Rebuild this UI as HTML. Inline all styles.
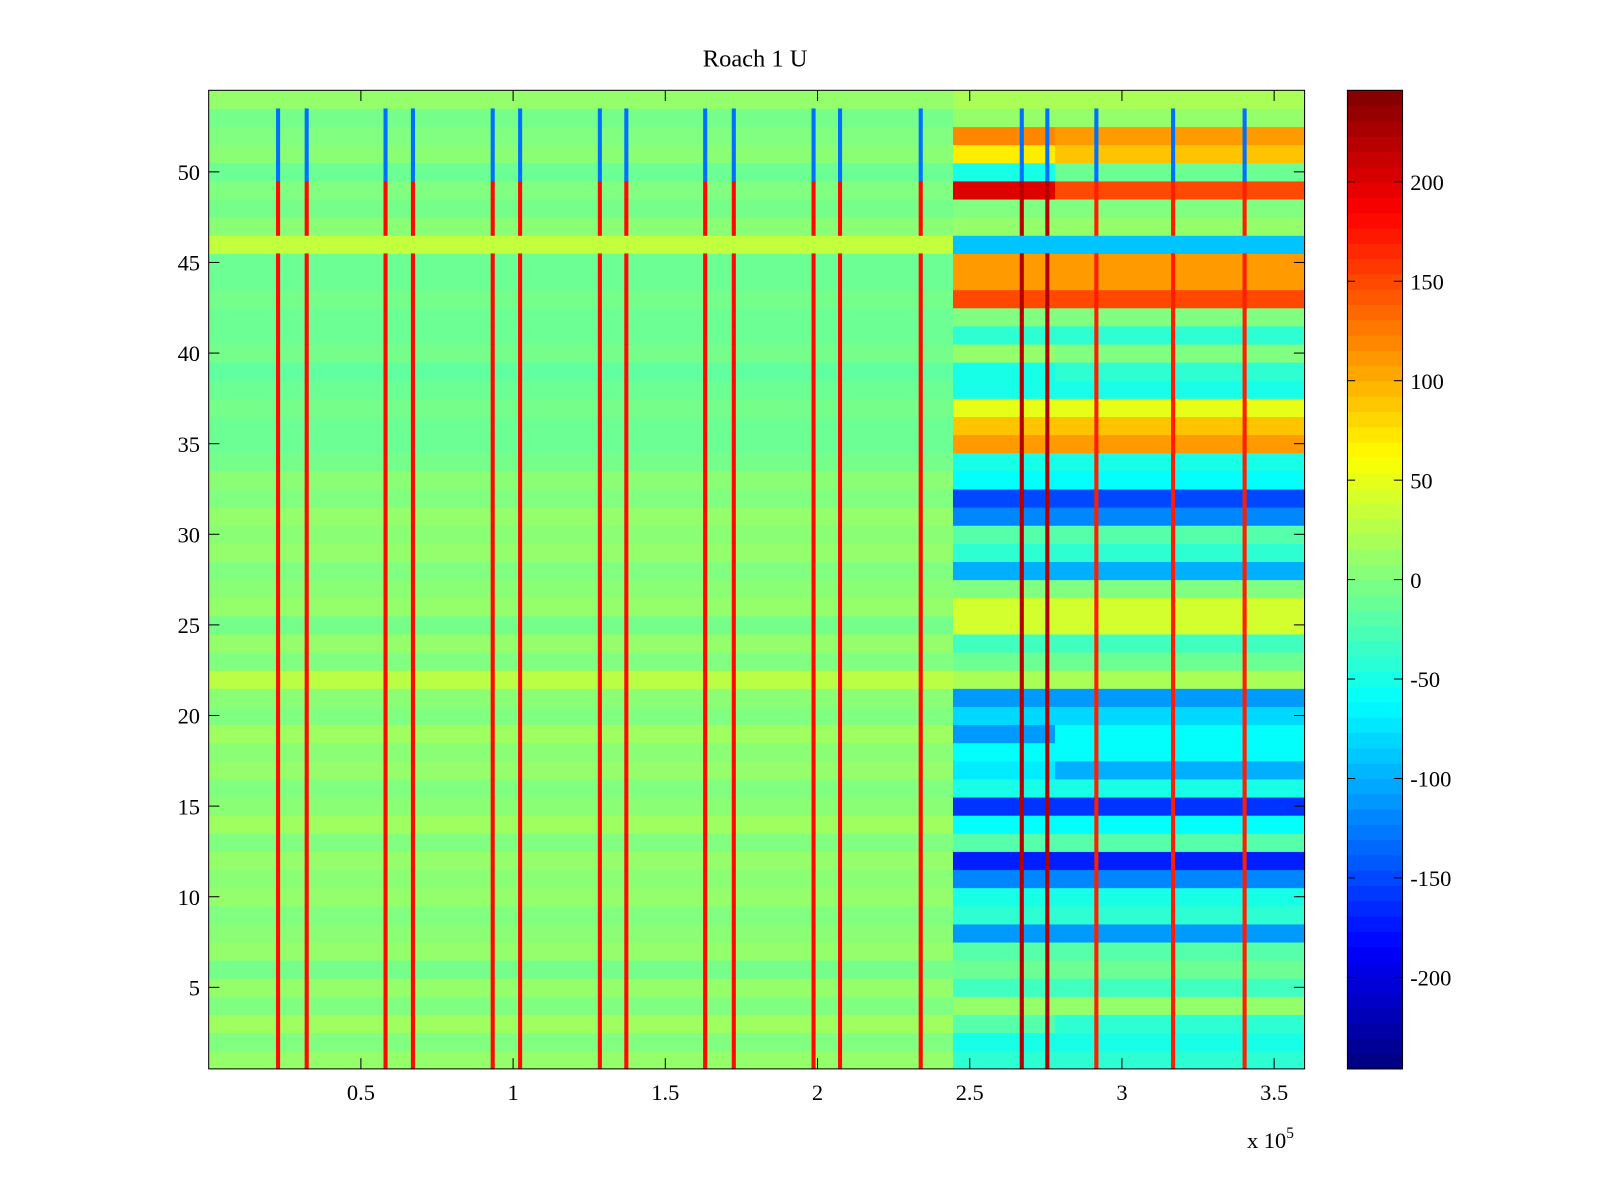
<!DOCTYPE html>
<html><head><meta charset="utf-8"><style>
body{margin:0;background:#fff;}
svg{display:block;font-family:"Liberation Serif",serif;}
</style></head><body>
<svg id="chart" width="1600" height="1200" viewBox="0 0 1568 1176" preserveAspectRatio="none">
<rect width="1568" height="1176" fill="#fff"/>
<g id="cells"></g>
<g id="spikes"></g>
<rect x="204.5" y="88.5" width="1074" height="959" fill="none" stroke="#000" stroke-width="1"/>
<g id="axes"></g>
<text x="740" y="65" font-size="24" text-anchor="middle">Roach 1 U</text>
<text x="1222" y="1125" font-size="22">x 10<tspan dy="-10" font-size="15">5</tspan></text>
<g id="colorbar"></g>
</svg>
<script>
// rows 1..54 (index 0 = row 1)
const leftVals = [10,0,15,0,10,-5,10,5,0,10,5,10,0,15,5,0,10,5,15,0,5,28,0,10,-5,10,5,0,10,5,10,0,5,-5,-10,-10,-5,-10,-15,-5,-10,-10,-5,-10,-10,32,5,-5,0,-10,5,0,-5,10];
const midVals = [-40,-50,-20,10,-30,-10,-20,-110,-40,-50,-120,-170,-20,-60,-160,-50,-70,-60,-110,-80,-110,20,-10,-30,40,40,0,-100,-40,-20,-120,-150,-60,-50,110,90,50,-50,-50,10,-40,0,150,110,110,-90,10,0,200,-50,70,120,10,20];
const rightVals = [-40,-50,-40,10,-30,-10,-20,-110,-40,-50,-120,-170,-20,-60,-160,-50,-100,-60,-60,-80,-110,20,-10,-30,40,40,0,-100,-40,-20,-120,-150,-60,-50,110,90,50,-50,-40,0,-40,0,150,110,110,-90,10,0,150,-10,90,110,10,20];
const spikeX = [22800,32200,58100,67100,93300,102300,128500,137200,163100,172500,198700,207400,233900,267100,275500,291600,316800,340300];
const spikeVals = [180,180,180,180,180,180,180,180,180,180,180,180,180,220,220,170,170,170];
const spikeTopVals = [-130,-130,-130,-130,-130,-130,-130,-130,-130,-130,-130,-130,-130,-130,-130,-130,-130,-130];
const xTicks = [0.5,1,1.5,2,2.5,3,3.5];
const yTicks = [5,10,15,20,25,30,35,40,45,50];
const cbTicks = [-200,-150,-100,-50,0,50,100,150,200];
const X0=0, X1=360000, Y0=0.5, Y1=54.5, CL=246;
const MID0=244500, MID1=278000;
const px = v => 204.5 + (v-X0)/(X1-X0)*1074;
const py = v => 1047.5 - (v-Y0)/(Y1-Y0)*959;
function jet(v){
  let t=(v+CL)/(2*CL); t=Math.max(0,Math.min(1,t));
  const f=x=>Math.max(0,Math.min(1,x));
  const r=f(1.5-Math.abs(4*t-3)), g=f(1.5-Math.abs(4*t-2)), b=f(1.5-Math.abs(4*t-1));
  return `rgb(${Math.round(r*255)},${Math.round(g*255)},${Math.round(b*255)})`;
}
const NS='http://www.w3.org/2000/svg';
function mk(tag,attrs,parent){const e=document.createElementNS(NS,tag);for(const k in attrs)e.setAttribute(k,attrs[k]);parent.appendChild(e);return e;}
const cells=document.getElementById('cells');
for(let i=0;i<54;i++){
  const r=i+1, yt=py(r+0.5), h=py(r-0.5)-yt;
  const segs=[[X0,MID0,leftVals[i]],[MID0,MID1,midVals[i]],[MID1,X1,rightVals[i]]];
  segs.forEach(s=>{
    const e=mk('rect',{x:px(s[0]),y:yt,width:px(s[1])-px(s[0])+0.5,height:h+0.5,fill:jet(s[2])},cells);
    
    
  });
}
const spikes=document.getElementById('spikes');
spikeX.forEach((x,j)=>{
  for(let i=0;i<54;i++){
    const r=i+1;
    if(r===54 || r===46) continue;
    const v = r>=50 ? spikeTopVals[j] : spikeVals[j];
    const e=mk('rect',{x:px(x)-2,y:py(r+0.5),width:4,height:py(r-0.5)-py(r+0.5)+0.5,fill:jet(v)},spikes);
    
    
  }
});
const axes=document.getElementById('axes');
xTicks.forEach(t=>{
  const x=px(t*1e5);
  mk('line',{x1:x,x2:x,y1:1047.5,y2:1037,stroke:'#000'},axes);
  mk('line',{x1:x,x2:x,y1:88.5,y2:99,stroke:'#000'},axes);
  const e=mk('text',{x:x,y:1078,'font-size':22,'text-anchor':'middle'},axes);
  e.textContent=t;
  
  
});
yTicks.forEach(t=>{
  const y=py(t);
  mk('line',{x1:204.5,x2:215,y1:y,y2:y,stroke:'#000'},axes);
  mk('line',{x1:1278.5,x2:1268,y1:y,y2:y,stroke:'#000'},axes);
  const e=mk('text',{x:196,y:y+8,'font-size':22,'text-anchor':'end'},axes);
  e.textContent=t;
  
  
});
const cb=document.getElementById('colorbar');
const cbx=1320, cbw=54, cbt=88.5, cbb=1047.5, N=64;
for(let k=0;k<N;k++){
  const v=-CL+(k+0.5)*(2*CL/N);
  const y1=cbb-(k+1)*(cbb-cbt)/N;
  const e=mk('rect',{x:cbx,y:y1,width:cbw,height:(cbb-cbt)/N+0.6,fill:jet(v)},cb);
  
  
}
mk('rect',{x:cbx+0.5,y:cbt,width:cbw,height:cbb-cbt,fill:'none',stroke:'#000'},cb);
cbTicks.forEach(t=>{
  const y=cbb-(t+CL)/(2*CL)*(cbb-cbt);
  mk('line',{x1:cbx,x2:cbx+8,y1:y,y2:y,stroke:'#000'},cb);
  mk('line',{x1:cbx+cbw,x2:cbx+cbw-8,y1:y,y2:y,stroke:'#000'},cb);
  const e=mk('text',{x:cbx+cbw+8,y:y+8,'font-size':22},cb);
  e.textContent=t;
  
  
});
</script>
</body></html>
